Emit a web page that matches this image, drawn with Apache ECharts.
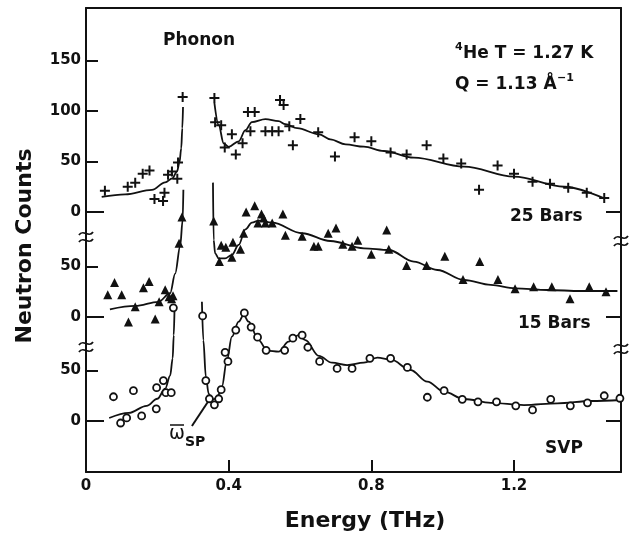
<!DOCTYPE html>
<html>
<head>
<meta charset="utf-8">
<title>Neutron scattering from 4He</title>
<script src="https://cdn.jsdelivr.net/npm/echarts@6.0.0/dist/echarts.min.js"></script>
<style>
  html, body { margin: 0; padding: 0; background: #fff; }
  #chart { width: 629px; height: 535px; }
</style>
</head>
<body>
<div id="chart"></div>
<script>
// ---------- data: energy (THz) and neutron counts for each pressure ----------
// 25 bars
const bar25E = [0.053,0.117,0.138,0.159,0.178,0.192,0.216,0.220,0.230,0.241,0.256,0.258,0.271,
  0.360,0.362,0.379,0.389,0.409,0.420,0.439,0.454,0.473,0.461,0.503,0.522,0.540,0.544,0.554,0.570,
  0.580,0.601,0.651,0.698,0.753,0.800,0.854,0.899,0.955,1.002,1.052,1.102,1.154,1.200,1.252,1.301,
  1.352,1.404,1.453];
const bar25N = [21,25,29,38,41,13,11,19,37,40,33,49,114,
  113,89,86,64,77,57,68,99,99,80,80,80,80,111,106,85,
  66,92,79,55,74,70,59,57,66,53,48,22,46,38,30,28,
  24,19,14];
const bar25FitLowE = [0.044,0.110,0.185,0.222,0.242,0.255,0.262,0.267,0.270,0.272];
const bar25FitLowN = [15,17.5,22,29.4,33.4,40,49,63,83,104];
const bar25FitHighE = [0.360,0.372,0.386,0.400,0.428,0.447,0.465,0.503,0.540,0.559,0.592,0.653,
  0.685,0.728,0.779,0.835,0.919,1.060,1.200,1.341,1.453];
const bar25FitHighN = [108,86,68,64.6,70,81,89,92,90,87,83,77,
  72,67,64.7,60.4,53.8,44.9,35,25,13.5];

// 15 bars
const bar15E = [0.061,0.080,0.100,0.119,0.138,0.161,0.177,0.194,0.205,0.222,0.233,0.240,0.244,
  0.261,0.269,0.358,0.374,0.379,0.392,0.409,0.412,0.433,0.442,0.449,0.473,0.482,0.492,0.498,0.503,
  0.522,0.552,0.559,0.606,0.639,0.651,0.679,0.701,0.720,0.746,0.762,0.800,0.843,0.849,0.899,0.955,
  1.006,1.057,1.104,1.155,1.203,1.255,1.306,1.357,1.411,1.458];
const bar15N = [22,34,22,-5,10,29,35,-2,15,27,20,18,21,
  73,99,95,55,71,69,59,74,67,83,104,110,93,102,98,93,
  93,102,81,80,70,70,83,88,72,70,76,62,86,67,51,51,
  60,37,55,37,28,30,30,18,30,25];
const bar15FitLowE = [0.067,0.138,0.203,0.236,0.250,0.264,0.271,0.273];
const bar15FitLowN = [7.6,10.9,15,23.5,43,70,96,126];
const bar15FitHighE = [0.356,0.358,0.362,0.372,0.390,0.409,0.428,0.447,0.465,0.484,0.522,0.606,
  0.685,0.779,0.849,0.919,0.985,1.060,1.135,1.203,1.294,1.388,1.490];
const bar15FitHighN = [133,76,63,58,58,61.4,71.3,86.8,93.4,95.3,93.4,82.9,
  75.2,68,66.3,54.8,46.5,36.6,31.7,28.4,26.7,25.7,25.7];

// saturated vapour pressure
const svpE = [0.077,0.097,0.114,0.133,0.156,0.197,0.198,0.217,0.224,0.239,0.245,
  0.327,0.336,0.346,0.360,0.372,0.379,0.390,0.398,0.420,0.444,0.463,0.481,0.505,0.557,
  0.580,0.606,0.622,0.655,0.704,0.746,0.796,0.854,0.901,0.957,1.004,1.055,1.099,1.151,
  1.205,1.252,1.303,1.358,1.406,1.453,1.497];
const svpN = [24,-2,3,30,5,12,33,40,28,28,112,
  104,40,22,16,22,31,68,59,90,107,93,83,70,70,
  82,85,73,59,52,52,62,62,53,23.5,30,21.5,19,19,
  15,11,21.5,15,18,25,22.5];
const svpFitLowE = [0.065,0.120,0.170,0.200,0.222,0.236,0.243,0.246,0.248];
const svpFitLowN = [3,8,15,22,32,45,62,85,108];
const svpFitHighE = [0.325,0.329,0.336,0.344,0.353,0.367,0.381,0.395,0.409,0.428,0.442,0.456,
  0.484,0.508,0.540,0.568,0.596,0.615,0.653,0.690,0.732,0.779,0.817,0.854,0.910,0.957,
  1.004,1.060,1.135,1.228,1.322,1.416,1.500];
const svpFitHighN = [118,80,44,27,21,22.5,34,60,83.5,98.3,105,98.3,
  80,69.6,68.6,78.5,85,80,64.4,57.7,55.4,57.7,62.7,61,50.5,39,
  29,21.8,18,15.8,17.5,19.8,20.8];

// roton-pair energy marker (arrow tail, arrow tip)
const omegaSpArrowE = [0.297, 0.342];
const omegaSpArrowN = [-5, 19];

// tick values per panel (bottom to top: SVP, 15 bars, 25 bars)
const panelLabels = [[0, 50], [0, 50], [0, 50, 100, 150]];
const energyTicks = [0, 0.4, 0.8, 1.2];

// ---------- chart ----------
const ink = '#111';
const font = 'DejaVu Sans';
const zip = (a, b) => a.map((v, i) => [v, b[i]]);

// Three stacked panels share one frame; each has its own count scale.
const panelRanges = [[-50.5, 408.9], [-153.5, 305.9], [-257.4, 202]];

const grids = panelRanges.map(() => ({ left: 86, right: 8, top: 8, bottom: 63 }));

const xAxes = [
  {
    gridIndex: 0, type: 'value', min: 0, max: 1.5, position: 'bottom',
    axisLine: { onZero: false, lineStyle: { color: ink, width: 2 } },
    axisTick: { inside: true, length: 12, customValues: energyTicks.slice(1), lineStyle: { color: ink, width: 2 } },
    axisLabel: { customValues: energyTicks, color: ink, fontSize: 15, fontWeight: 'bold', fontFamily: font, margin: 7 },
    splitLine: { show: false }
  },
  {
    gridIndex: 0, type: 'value', min: 0, max: 1.5, position: 'top',
    axisLine: { onZero: false, lineStyle: { color: ink, width: 2 } },
    axisTick: { show: false }, axisLabel: { show: false }, splitLine: { show: false }
  },
  { gridIndex: 1, type: 'value', min: 0, max: 1.5, show: false, axisLine: { onZero: false } },
  { gridIndex: 2, type: 'value', min: 0, max: 1.5, show: false, axisLine: { onZero: false } }
];
const xIndexOf = [0, 2, 3];

const yAxes = [];
panelRanges.forEach((r, i) => {
  const frame = i === 0;
  // left axis: labels and short ticks
  yAxes.push({
    gridIndex: i, type: 'value', min: r[0], max: r[1], position: 'left',
    axisLine: { show: frame, onZero: false, lineStyle: { color: ink, width: 2 } },
    axisTick: { inside: true, length: 12, customValues: panelLabels[i].slice(1), lineStyle: { color: ink, width: 2 } },
    axisLabel: { customValues: panelLabels[i], color: ink, fontSize: 15, fontWeight: 'bold', fontFamily: font, margin: 5 },
    splitLine: { show: false }
  });
  // left axis: longer zero tick
  yAxes.push({
    gridIndex: i, type: 'value', min: r[0], max: r[1], position: 'left',
    axisLine: { show: false, onZero: false },
    axisTick: { inside: true, length: 18, customValues: [0], lineStyle: { color: ink, width: 2 } },
    axisLabel: { show: false }, splitLine: { show: false }
  });
  // right axis: zero tick
  yAxes.push({
    gridIndex: i, type: 'value', min: r[0], max: r[1], position: 'right',
    axisLine: { show: frame, onZero: false, lineStyle: { color: ink, width: 2 } },
    axisTick: { inside: true, length: 15, customValues: [0], lineStyle: { color: ink, width: 2 } },
    axisLabel: { show: false }, splitLine: { show: false }
  });
});
const yIndexOf = [0, 3, 6];

const plusPath = 'path://M4,0H6V4H10V6H6V10H4V6H0V4H4Z';

function fit(panel, e, n) {
  return {
    type: 'line', xAxisIndex: xIndexOf[panel], yAxisIndex: yIndexOf[panel],
    data: zip(e, n), showSymbol: false, smooth: 0.35, smoothMonotone: 'x',
    lineStyle: { color: ink, width: 1.8 }, silent: true, z: 2
  };
}

const series = [
  fit(0, svpFitLowE, svpFitLowN),
  fit(0, svpFitHighE, svpFitHighN),
  fit(1, bar15FitLowE, bar15FitLowN),
  fit(1, bar15FitHighE, bar15FitHighN),
  fit(2, bar25FitLowE, bar25FitLowN),
  fit(2, bar25FitHighE, bar25FitHighN),
  {
    name: 'SVP', type: 'scatter', xAxisIndex: 0, yAxisIndex: 0,
    data: zip(svpE, svpN), symbol: 'circle', symbolSize: 7,
    itemStyle: { color: '#fff', borderColor: ink, borderWidth: 1.8, opacity: 1 }, z: 3,
    markLine: {
      silent: true, symbol: ['none', 'arrow'], symbolSize: [0, 10],
      label: { show: false },
      lineStyle: { color: ink, width: 2, type: 'solid' },
      data: [[{ coord: [omegaSpArrowE[0], omegaSpArrowN[0]] }, { coord: [omegaSpArrowE[1], omegaSpArrowN[1]] }]]
    }
  },
  {
    name: '15 Bars', type: 'scatter', xAxisIndex: 2, yAxisIndex: 3,
    data: zip(bar15E, bar15N), symbol: 'triangle', symbolSize: 9,
    itemStyle: { color: ink, opacity: 1 }, z: 3
  },
  {
    name: '25 Bars', type: 'scatter', xAxisIndex: 3, yAxisIndex: 6,
    data: zip(bar25E, bar25N), symbol: plusPath, symbolSize: 10,
    itemStyle: { color: ink, opacity: 1 }, z: 3
  }
];

function label(text, x, y, size, weight, align) {
  return {
    type: 'text', x: x, y: y, z: 100, silent: true,
    style: { text: text, fill: ink, font: (weight || 'bold') + ' ' + size + 'px "' + font + '"',
      textAlign: align || 'left', textVerticalAlign: 'middle' }
  };
}

// axis break glyph: the frame line is interrupted between two tildes
function axisBreak(cx, cy) {
  const tilde = (dy) => ({
    type: 'bezierCurve', silent: true,
    shape: { x1: cx - 7, y1: cy + dy + 1.5, cpx1: cx - 3, cpy1: cy + dy - 5, cpx2: cx + 3, cpy2: cy + dy + 5, x2: cx + 7, y2: cy + dy - 1.5 },
    style: { stroke: ink, lineWidth: 1.8, fill: null }
  });
  return {
    type: 'group', z: 100, silent: true,
    children: [
      { type: 'rect', shape: { x: cx - 3, y: cy - 2.5, width: 6, height: 5 }, style: { fill: '#fff' } },
      tilde(-3.5), tilde(3.5)
    ]
  };
}

const graphic = [
  label('Phonon', 163, 41, 17),
  label('4', 455, 47, 11),
  label('He T = 1.27 K', 463, 54, 17),
  label('Q = 1.13 Å', 455, 85, 17),
  label('−1', 557, 78, 11),
  label('25 Bars', 510, 217, 17),
  label('15 Bars', 518, 324, 17),
  label('SVP', 545, 449, 17),
  label('ω', 169, 434, 19, 'normal'),
  { type: 'line', z: 100, silent: true, shape: { x1: 170, y1: 425, x2: 184, y2: 425 }, style: { stroke: ink, lineWidth: 1.5 } },
  label('SP', 185, 442, 14),
  label('Energy (THz)', 365, 521, 22, 'bold', 'center'),
  { type: 'text', x: 25, y: 246, rotation: Math.PI / 2, z: 100, silent: true,
    style: { text: 'Neutron Counts', fill: ink, font: 'bold 22px "' + font + '"', textAlign: 'center', textVerticalAlign: 'middle' } },
  axisBreak(86, 237), axisBreak(86, 347),
  axisBreak(621, 241), axisBreak(621, 349)
];

const chart = echarts.init(document.getElementById('chart'), null, { renderer: 'canvas' });
chart.setOption({
  animation: false,
  backgroundColor: '#fff',
  grid: grids,
  xAxis: xAxes,
  yAxis: yAxes,
  series: series,
  graphic: graphic
});
</script>
</body>
</html>
